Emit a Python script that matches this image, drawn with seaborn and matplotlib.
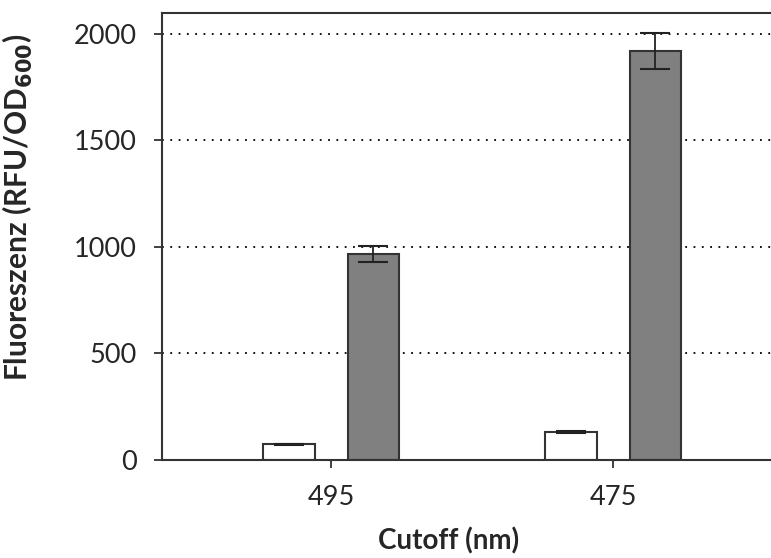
import numpy as np
import pandas as pd
import matplotlib
matplotlib.use('Agg')
import matplotlib.pyplot as plt
import seaborn as sns

# data
cutoffs = ['495', '475']
series = ['ohne', 'mit']
values_ohne = [74, 133]
values_mit = [966, 1919]
err_ohne = [3, 4]
err_mit = [36, 83]

df = pd.DataFrame({
    'Cutoff': cutoffs * 2,
    'Serie': [series[0]] * 2 + [series[1]] * 2,
    'Wert': values_ohne + values_mit,
})
errs = err_ohne + err_mit

sns.set_style('white')
plt.rcParams['font.family'] = ['Lato', 'DejaVu Sans']

fig = plt.figure(figsize=(7.71, 5.58), dpi=100)
W, H = 771, 558
ax = fig.add_axes([162 / W, 98 / H, (W - 162) / W, (460 - 12.5) / H])

# dotted grid behind the bars
for yv in [500, 1000, 1500, 2000]:
    ax.axhline(yv, color='black', lw=1.3, linestyle=(0, (1, 3.6)), zorder=0)

sns.barplot(data=df, x='Cutoff', y='Wert', hue='Serie', order=cutoffs,
            hue_order=series, palette=['white', '#808080'], width=0.6,
            gap=0.39, edgecolor='#333333', linewidth=1.5, errorbar=None,
            legend=False, ax=ax, zorder=2)

# error bars at the bar centres
for patch, e in zip(ax.patches, errs):
    xc = patch.get_x() + patch.get_width() / 2
    ax.errorbar(xc, patch.get_height(), yerr=e, color='#222222', capsize=11,
                elinewidth=1.3, capthick=1.5, zorder=3)

ax.set_ylim(0, 2100)
ax.set_xlim(-0.6, 1.56)
ax.set_yticks([0, 500, 1000, 1500, 2000])

for s in ['left', 'top', 'bottom']:
    ax.spines[s].set_color('#333333')
    ax.spines[s].set_linewidth(1.5)
ax.spines['right'].set_visible(False)

ax.tick_params(axis='both', which='major', labelsize=19.5, direction='out',
               length=6, width=1.3, color='#333333', bottom=True, left=True)
ax.tick_params(axis='y', pad=12)
ax.tick_params(axis='x', pad=12)

ax.set_ylabel('Fluoreszenz (RFU/OD$_{\\mathbf{600}}$)', fontsize=21.5, fontweight='bold')
ax.yaxis.set_label_coords((18 - 162) / (W - 162), (460 - 207) / (460 - 12.5))
ax.set_xlabel('Cutoff (nm)', fontsize=20, fontweight='bold')
ax.xaxis.set_label_coords((449 - 162) / (W - 162), -(541 - 460) / (460 - 12.5))
ax.xaxis.label.set_va('center')
ax.yaxis.label.set_va('center')

fig.savefig('out.png', dpi=100)
